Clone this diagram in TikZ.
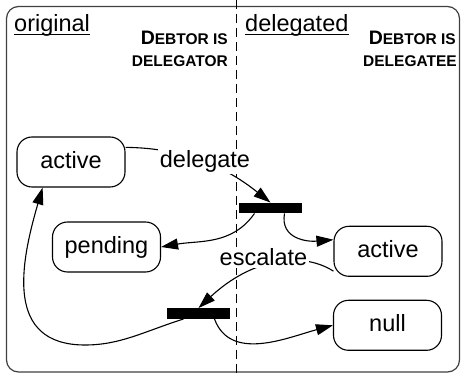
\documentclass[tikz,border=0pt]{standalone}
\usepackage{fontspec}
\setmainfont{Liberation Sans}
\usetikzlibrary{arrows.meta}

% fake small caps for the bold column headings
\newcommand{\capD}[1]{{\fontsize{19.5}{20}\selectfont #1}}
\newcommand{\capS}[1]{{\fontsize{15.5}{20}\selectfont #1}}

\begin{document}
\begin{tikzpicture}[x=1pt,y=-1pt,
  statebox/.style={draw, line width=1.1pt, rounded corners=15pt,
    minimum width=108pt, minimum height=50pt, inner sep=0pt,
    font=\fontsize{23.5}{28}\selectfont, text height=17pt, text depth=4.5pt},
  syncbar/.style={fill=black, draw=none, minimum width=63pt,
    minimum height=10.5pt, inner sep=0pt},
  link/.style={line width=1.1pt},
  arr/.style={link, -{Triangle[length=17pt,width=11pt]}},
  lbl/.style={fill=white, inner sep=1.5pt, anchor=base,
    font=\fontsize{23.5}{28}\selectfont},
  title/.style={inner sep=0pt, anchor=base west,
    font=\fontsize{23.5}{28}\selectfont},
  head/.style={inner sep=0pt, anchor=base east, font=\bfseries},
  frame/.style={draw=black!75, line width=1.2pt, rounded corners=12pt},
  divider/.style={line width=1pt, dash pattern=on 9pt off 5pt}
]
\useasboundingbox (0,0) rectangle (461,374);

% outer frame and the dashed divider between the two regions
\draw[frame] (6.5,6.5) rectangle (459.5,372);
\coordinate (divtop) at (236,0);
\coordinate (divbot) at (236,374);
\draw[divider] (divtop) -- (divbot);

% region titles
\node[title] (orig) at (14,32) {original};
\node[title] (dlgd) at (245,32) {delegated};
\draw[line width=1.3pt] ([yshift=-2.5pt]orig.base west) -- ([yshift=-2.5pt]orig.base east);
\draw[line width=1.3pt] ([yshift=-2.5pt]dlgd.base west) -- ([yshift=-2.5pt]dlgd.base east);

% column headings
\node[head] (h1a) at (228,44.5) {\capD{D}\capS{EBTOR IS}};
\node[head] (h1b) at (228,66.7) {\capS{DELEGATOR}};
\node[head] (h2a) at (456,44.5) {\capD{D}\capS{EBTOR IS}};
\node[head] (h2b) at (457,67) {\capS{DELEGATEE}};

% states and synchronisation bars
\node[statebox] (actL) at (71,162) {active};
\node[statebox] (pend) at (106.5,247) {pending};
\node[statebox] (actR) at (388,251.3) {active};
\node[statebox] (nul) at (387.5,325.3) {null};
\node[syncbar] (bar1) at (270.5,208) {};
\node[syncbar] (bar2) at (198.5,313.5) {};

% transitions
\draw[arr] (actL.15) .. controls (200,148) and (242,180) .. (bar1.north);
\draw[arr] ([xshift=-16pt]bar1.south) to[out=-125,in=10] (pend.east);
\draw[arr] ([xshift=14pt]bar1.south) to[out=-100,in=185,looseness=1.2] (actR.168);
\draw[arr] (actR.200) .. controls (300,250) and (250,260) .. (bar2.north);
\coordinate (loop) at (85,345);
\draw[arr] ([xshift=-15pt]bar2.south) .. controls (143,332) and (120,345) .. (loop)
  .. controls (5,345) and (20,265) .. (actL.222);
\draw[arr] ([xshift=16pt]bar2.south) to[out=-70,in=195] (nul.west);

% transition labels, drawn over the lines they interrupt
\node[lbl] (dlg) at (205,167.5) {delegate};
\node[lbl] (esc) at (263.5,266) {escalate};
\end{tikzpicture}
\end{document}
